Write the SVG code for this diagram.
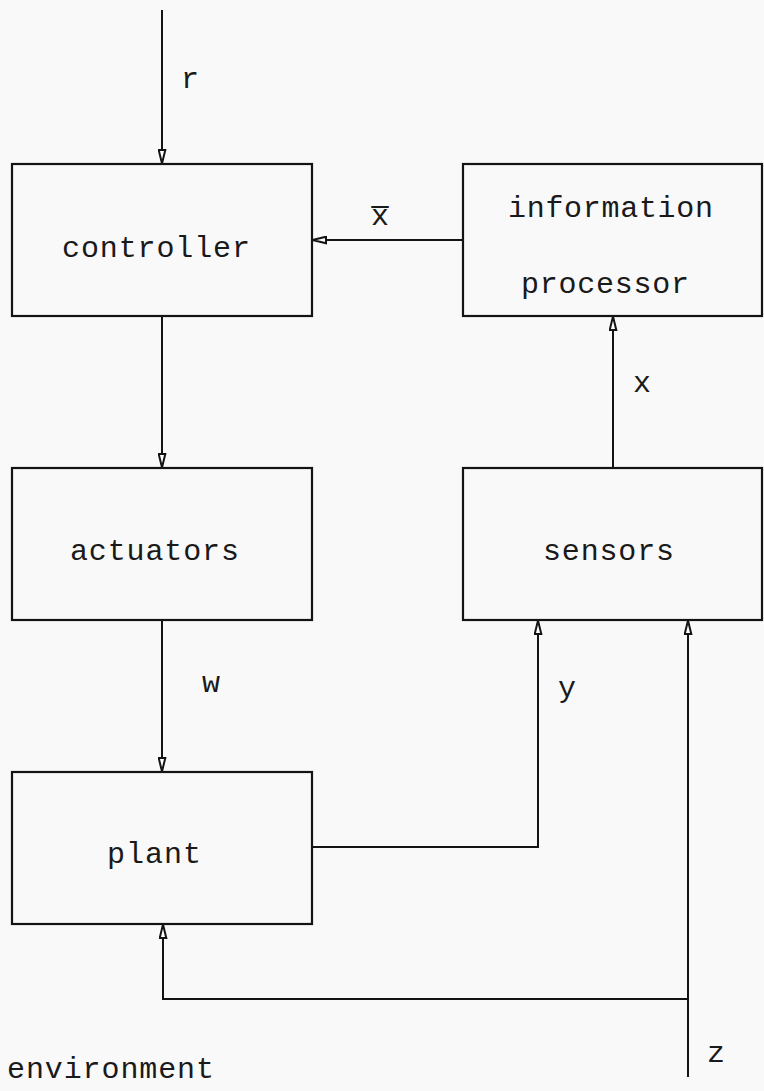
<svg xmlns="http://www.w3.org/2000/svg" width="764" height="1091" viewBox="0 0 764 1091">
  <style>
    .box { fill: none; stroke: #141414; stroke-width: 2.2; }
    .wire { fill: none; stroke: #141414; stroke-width: 2; }
    .lbl { font-family: "Liberation Mono", "DejaVu Sans Mono", monospace; font-size: 30px; fill: #1a1a1a; }
  </style>
  <defs>
    <!-- narrow open arrowhead, tip at the end of the path -->
    <marker id="head" viewBox="0 0 16 9" refX="15.5" refY="4.5" markerWidth="16" markerHeight="9" markerUnits="userSpaceOnUse" orient="auto">
      <path d="M1.5,1.2 L15,4.5 L1.5,7.8 Z" fill="#ffffff" stroke="#141414" stroke-width="2" stroke-linejoin="miter"/>
    </marker>
  </defs>

  <rect width="764" height="1091" fill="#f9f9f9"/>

  <!-- blocks -->
  <g id="controller">
    <rect class="box" x="12" y="164" width="300" height="152"/>
    <text class="lbl" x="62" y="257" textLength="188" lengthAdjust="spacing">controller</text>
  </g>
  <g id="information-processor">
    <rect class="box" x="463" y="164" width="299" height="152"/>
    <text class="lbl" x="508" y="217" textLength="205" lengthAdjust="spacing">information</text>
    <text class="lbl" x="521" y="293" textLength="168" lengthAdjust="spacing">processor</text>
  </g>
  <g id="actuators">
    <rect class="box" x="12" y="468" width="300" height="152"/>
    <text class="lbl" x="70" y="560" textLength="169" lengthAdjust="spacing">actuators</text>
  </g>
  <g id="sensors">
    <rect class="box" x="463" y="468" width="299" height="152"/>
    <text class="lbl" x="543" y="560" textLength="131" lengthAdjust="spacing">sensors</text>
  </g>
  <g id="plant">
    <rect class="box" x="12" y="772" width="300" height="152"/>
    <text class="lbl" x="107" y="863" textLength="94" lengthAdjust="spacing">plant</text>
  </g>
  <g id="environment">
    <text class="lbl" x="7" y="1078" textLength="207" lengthAdjust="spacing">environment</text>
  </g>

  <!-- signal paths -->
  <g id="connectors">
    <line class="wire" x1="162" y1="10" x2="162" y2="164" marker-end="url(#head)"/>
    <line class="wire" x1="162" y1="316" x2="162" y2="468" marker-end="url(#head)"/>
    <line class="wire" x1="162" y1="620" x2="162" y2="772" marker-end="url(#head)"/>
    <line class="wire" x1="463" y1="240" x2="312" y2="240" marker-end="url(#head)"/>
    <line class="wire" x1="613" y1="468" x2="613" y2="316" marker-end="url(#head)"/>
    <polyline class="wire" points="312,847 538,847 538,620" marker-end="url(#head)"/>
    <line class="wire" x1="688" y1="1077" x2="688" y2="620" marker-end="url(#head)"/>
    <polyline class="wire" points="688,999 163,999 163,924" marker-end="url(#head)"/>
  </g>

  <!-- signal names -->
  <g id="signal-labels">
    <text class="lbl" x="181" y="88">r</text>
    <text class="lbl" x="371" y="225">x&#x0305;</text>
    <text class="lbl" x="633" y="392">x</text>
    <text class="lbl" x="202" y="692">w</text>
    <text class="lbl" x="558" y="697">y</text>
    <text class="lbl" x="707" y="1062">z</text>
  </g>
</svg>
